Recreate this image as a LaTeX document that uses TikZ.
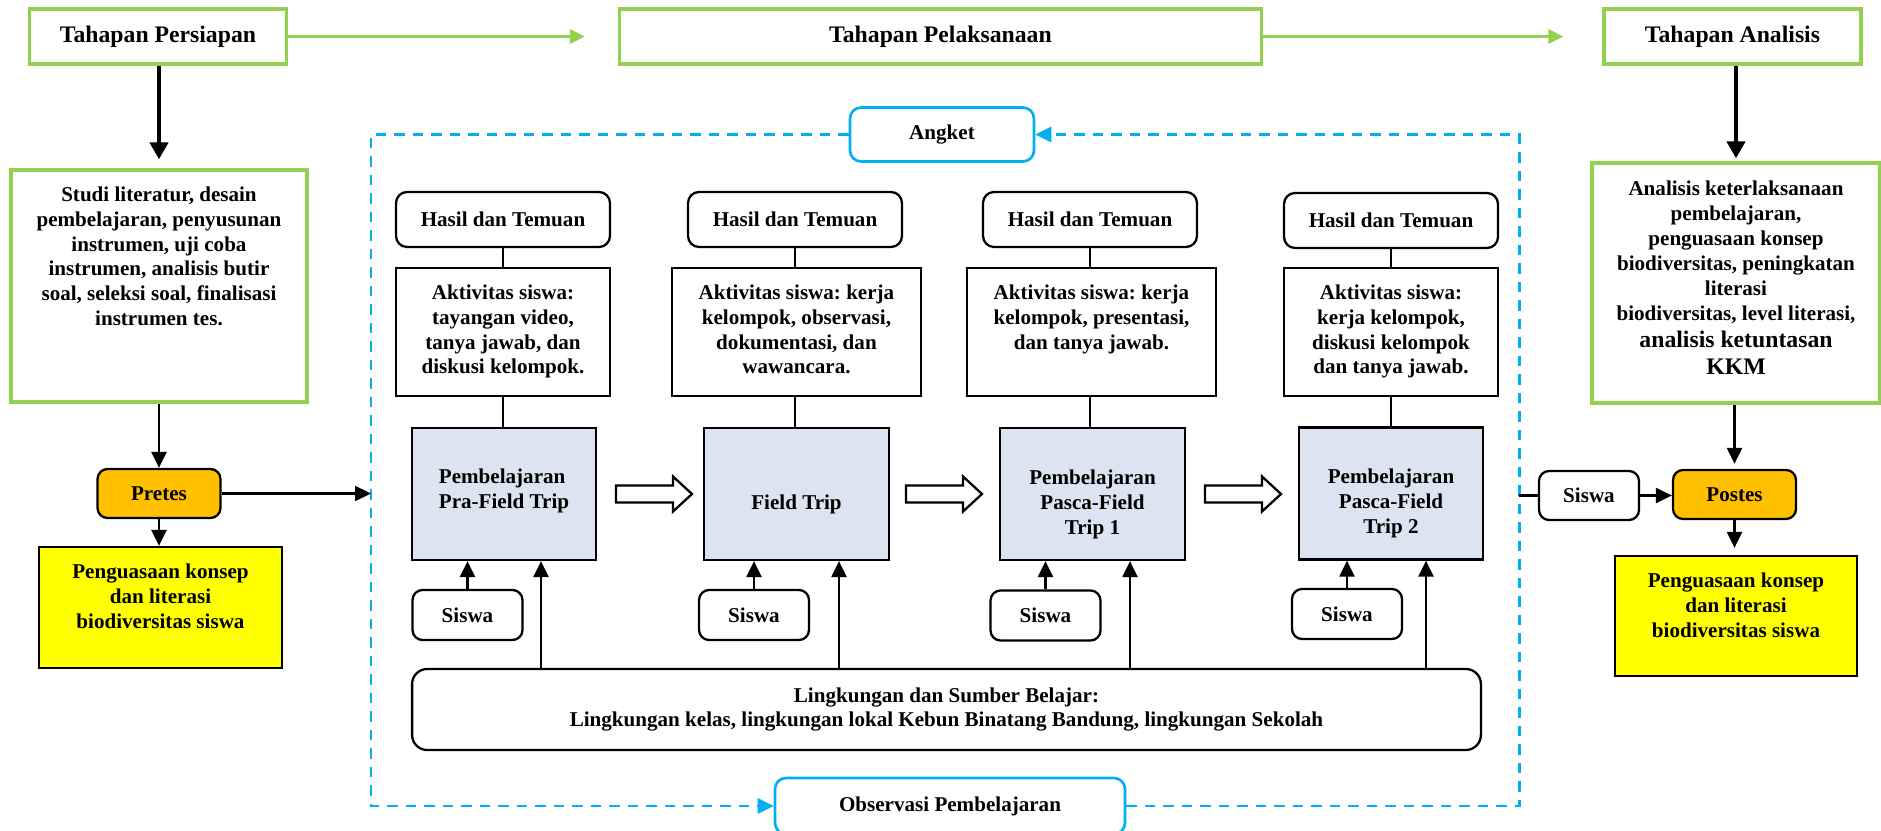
\documentclass[tikz,border=0pt]{standalone}
\usepackage{fontspec}
\setmainfont{Liberation Serif}
\usetikzlibrary{arrows.meta}
\definecolor{grn}{HTML}{92D050}
\definecolor{blu}{HTML}{00B0F0}
\definecolor{pembfill}{HTML}{DBE4F0}
\definecolor{orng}{HTML}{FFC000}
\definecolor{ylw}{HTML}{FFFF00}
\frenchspacing
\newcommand\mytbox[4]{\parbox[c][#1][t]{#2}{\centering\vspace*{#3}#4\par}}
\newcommand\hollowarr[2]{\draw[line width=1.3pt,fill=white] (#1,#2) ++(0,-8.5) -- ++(57,0) -- ++(0,-9) -- ++(19,17.5) -- ++(-19,17.5) -- ++(0,-9) -- ++(-57,0) -- cycle;}
\begin{document}
\begin{tikzpicture}[x=0.02cm,y=-0.02cm,
  font=\fontsize{12}{14.2}\selectfont\bfseries,
  stage/.style={draw=grn,line width=1.9pt,fill=white,minimum height=1.1cm,inner sep=0pt,font=\fontsize{13.5}{16}\selectfont\bfseries},
  gbox/.style={draw=grn,line width=1.9pt,inner sep=0pt},
  hasil/.style={draw,rounded corners=0.22cm,line width=1.3pt,minimum width=4.28cm,minimum height=1.1cm,inner sep=0pt},
  akt/.style={draw,line width=1.3pt,inner sep=0pt},
  pembx/.style={draw,fill=pembfill,line width=1.3pt,inner sep=0pt},
  siswa/.style={draw,rounded corners=0.2cm,line width=1.3pt,minimum width=2.2cm,minimum height=1.0cm,inner sep=0pt},
  tes/.style={draw,fill=orng,rounded corners=0.2cm,line width=1.3pt,minimum width=2.46cm,minimum height=0.98cm,inner sep=0pt},
  ybox/.style={draw,fill=ylw,line width=1.3pt,inner sep=0pt},
  bluebox/.style={draw=blu,rounded corners=0.22cm,line width=1.5pt,fill=white,inner sep=0pt},
  conn/.style={line width=1.3pt},
  arr/.style={line width=1.3pt,-{Triangle[length=0.32cm,width=0.3cm]}},
  thickarr/.style={line width=2.8pt,-{Triangle[length=0.34cm,width=0.36cm]}},
  garr/.style={color=grn,line width=1.9pt,-{Triangle[length=0.3cm,width=0.28cm]}},
  bluedash/.style={color=blu,line width=1.7pt,dash pattern=on 0.21cm off 0.16cm,-{Triangle[length=0.32cm,width=0.3cm]}}]
\useasboundingbox (0,0) rectangle (1881,831);

% stages
\node[stage,minimum width=5.14cm] (persiapan) at (158,36.5) {Tahapan Persiapan};
\node[stage,minimum width=12.84cm] (pelaksanaan) at (940.5,36.5) {Tahapan Pelaksanaan};
\node[stage,minimum width=5.14cm] (analisisT) at (1732.5,36.5) {Tahapan Analisis};
\draw[garr,shorten >=0.66cm] (persiapan.east) -- (pelaksanaan.west);
\draw[garr,shorten >=0.78cm] (pelaksanaan.east) -- (analisisT.west);

% left column
\node[gbox] (studi) at (159,286) {\mytbox{4.64cm}{5.92cm}{0.33cm}{Studi literatur, desain\\ pembelajaran, penyusunan\\ instrumen, uji coba\\ instrumen, analisis butir\\ soal, seleksi soal, finalisasi\\ instrumen tes.}};
\node[tes] (pretes) at (159,493.5) {Pretes};
\node[ybox] (yel1) at (160.5,607.5) {\mytbox{2.42cm}{4.86cm}{0.33cm}{Penguasaan konsep\\ dan literasi\\ biodiversitas siswa}};
\draw[thickarr,shorten >=0.18cm] (persiapan.south -| studi.north) -- (studi.north);
\draw[arr] (studi.south) -- (studi.south |- pretes.north);
\draw[arr] (pretes.south) -- (pretes.south |- yel1.north);

% blue loop
\node[bluebox,minimum width=3.68cm,minimum height=1.08cm] (angket) at (942,134.5) {Angket};
\node[bluebox,minimum width=7.0cm,minimum height=1.12cm] (obs) at (950,806) {Observasi Pembelajaran};
\coordinate (tl) at (371,134.5);
\coordinate (bl) at (371,806);
\coordinate (br) at (1519,806);
\coordinate (tr) at (1519,134.5);
\draw[bluedash] (angket.west) -- (tl) -- (bl) -- (obs.west);
\draw[bluedash] (obs.east) -- (br) -- (tr) -- (angket.east);

\coordinate (inL) at (371,493.5);
\draw[arr] (pretes.east) -- (inL);

% hasil
\node[hasil] (h1) at (503,219.5) {Hasil dan Temuan};
\node[hasil] (h2) at (795,219.5) {Hasil dan Temuan};
\node[hasil] (h3) at (1090,219.5) {Hasil dan Temuan};
\node[hasil] (h4) at (1391,220.5) {Hasil dan Temuan};

% aktivitas
\node[akt] (a1) at (503,332) {\mytbox{2.56cm}{4.28cm}{0.33cm}{Aktivitas siswa:\\ tayangan video,\\ tanya jawab, dan\\ diskusi kelompok.}};
\node[akt] (a2) at (796.5,332) {\mytbox{2.56cm}{4.98cm}{0.33cm}{Aktivitas siswa: kerja\\ kelompok, observasi,\\ dokumentasi, dan\\ wawancara.}};
\node[akt] (a3) at (1091.5,332) {\mytbox{2.56cm}{4.98cm}{0.33cm}{Aktivitas siswa: kerja\\ kelompok, presentasi,\\ dan tanya jawab.}};
\node[akt] (a4) at (1391,332) {\mytbox{2.56cm}{4.28cm}{0.33cm}{Aktivitas siswa:\\ kerja kelompok,\\ diskusi kelompok\\ dan tanya jawab.}};

% pembelajaran
\node[pembx] (p1) at (504,494) {\mytbox{2.64cm}{3.68cm}{0.77cm}{\begin{tabular}{@{}l@{}}Pembelajaran\\ Pra-Field Trip\end{tabular}}};
\node[pembx] (p2) at (796.5,494) {\mytbox{2.64cm}{3.70cm}{1.33cm}{Field Trip}};
\node[pembx] (p3) at (1092.5,494) {\mytbox{2.64cm}{3.70cm}{0.83cm}{Pembelajaran\\ Pasca-Field\\ Trip 1}};
\node[pembx] (p4) at (1391,493.5) {\mytbox{2.64cm}{3.68cm}{0.83cm}{Pembelajaran\\ Pasca-Field\\ Trip 2}};

% connectors hasil - aktivitas - pembelajaran
\foreach \h/\a/\p in {h1/a1/p1,h2/a2/p2,h3/a3/p3,h4/a4/p4}{
  \draw[conn] (\h.south) -- (\h.south |- \a.north);
  \draw[conn] (\h.south |- \a.south) -- (\h.south |- \p.north);
}

% hollow arrows
\hollowarr{616}{494}
\hollowarr{906}{494}
\hollowarr{1205}{494}

% siswa
\node[siswa] (s1) at (467.5,615) {Siswa};
\node[siswa] (s2) at (754,615) {Siswa};
\node[siswa] (s3) at (1045.5,615.5) {Siswa};
\node[siswa] (s4) at (1347,614) {Siswa};
\draw[arr] (s1.north) -- (s1.north |- p1.south);
\draw[arr] (s2.north) -- (s2.north |- p2.south);
\draw[arr] (s3.north) -- (s3.north |- p3.south);
\draw[arr] (s4.north) -- (s4.north |- p4.south);

% lingkungan
\node[draw,rounded corners=0.3cm,line width=1.3pt,minimum width=21.38cm,minimum height=1.62cm,align=center,inner sep=0pt] (ling) at (946.5,709.5) {Lingkungan dan Sumber Belajar:\\ Lingkungan kelas, lingkungan lokal Kebun Binatang Bandung, lingkungan Sekolah};
\coordinate (l1) at (541,0);
\coordinate (l2) at (839,0);
\coordinate (l3) at (1130,0);
\coordinate (l4) at (1426,0);
\draw[arr] (l1 |- ling.north) -- (l1 |- p1.south);
\draw[arr] (l2 |- ling.north) -- (l2 |- p2.south);
\draw[arr] (l3 |- ling.north) -- (l3 |- p3.south);
\draw[arr] (l4 |- ling.north) -- (l4 |- p4.south);

% right column
\node[gbox] (analisis) at (1736,283) {\mytbox{4.8cm}{5.76cm}{0.36cm}{Analisis keterlaksanaan\\ pembelajaran,\\ penguasaan konsep\\ biodiversitas, peningkatan\\ literasi\\ biodiversitas, level literasi,\par{\fontsize{13.5}{15.5}\selectfont analisis ketuntasan\\ KKM\par}}};
\node[tes] (postes) at (1734.5,494.5) {Postes};
\node[siswa,minimum width=2.0cm,minimum height=0.98cm] (siswaR) at (1589,495.5) {Siswa};
\node[ybox] (yel2) at (1736,616) {\mytbox{2.4cm}{4.84cm}{0.33cm}{Penguasaan konsep\\ dan literasi\\ biodiversitas siswa}};
\draw[thickarr,shorten >=0.06cm] (analisisT.south -| analisis.north) -- (analisis.north);
\draw[arr,shorten >=0.1cm] (analisis.south -| postes.north) -- (postes.north);
\draw[arr,shorten >=0.14cm] (postes.south) -- (postes.south |- yel2.north);
\coordinate (outR) at (1519,495.5);
\draw[conn] (outR) -- (siswaR.west);
\draw[arr] (siswaR.east) -- (siswaR.east -| postes.west);
\end{tikzpicture}
\end{document}
